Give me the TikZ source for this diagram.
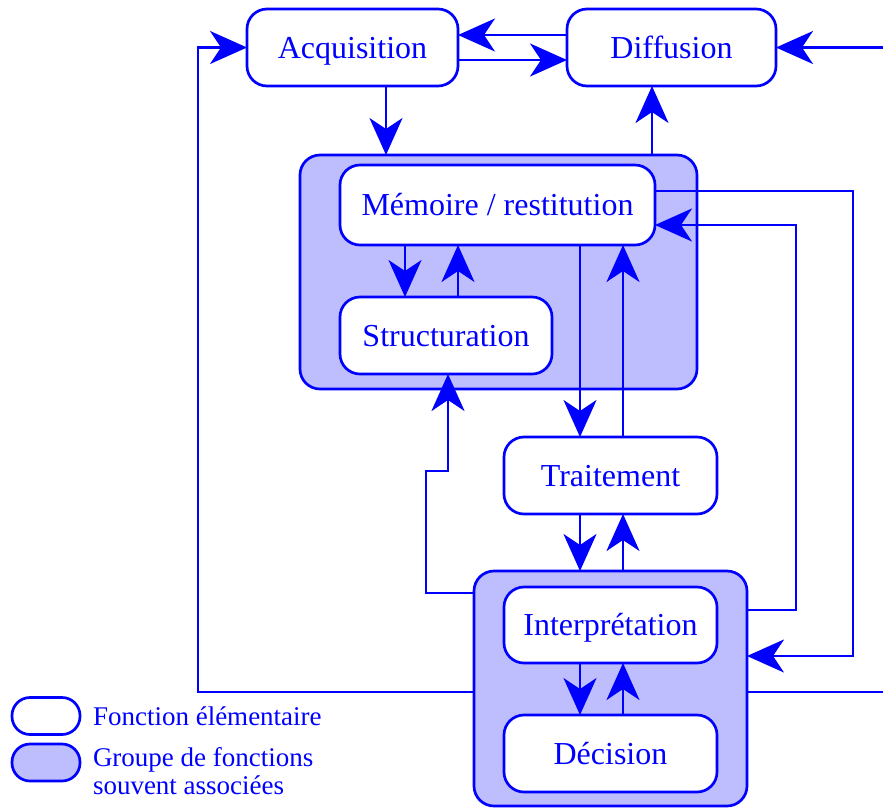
\documentclass[tikz,border=0pt]{standalone}
\usepackage{fontspec}
\setmainfont{Liberation Serif}
\usetikzlibrary{arrows.meta}
\definecolor{grp}{RGB}{190,190,255}
\begin{document}
\begin{tikzpicture}[x=1pt,y=-1pt,
  every node/.style={text=blue, outer sep=0pt},
  fbox/.style={draw=blue, line width=2.7pt, fill=white, rounded corners=20pt, inner sep=0pt, text height=28pt, text depth=7pt, font=\fontsize{32}{38}\selectfont},
  gbox/.style={draw=blue, line width=2.7pt, fill=grp, rounded corners=20pt, inner sep=0pt},
  arr/.style={draw=blue, line width=2.7pt, -{Stealth[length=37pt,width=33pt,inset=11pt]}},
  ln/.style={draw=blue, line width=2.7pt},
  legshape/.style={draw=blue, line width=2.7pt, rounded corners=18pt, minimum width=68pt, minimum height=37pt, inner sep=0pt},
  leg/.style={font=\fontsize{27}{28}\selectfont, anchor=west, align=left, inner sep=0pt}]
\useasboundingbox (0,0) rectangle (883,807);

% groups
\node[gbox, minimum width=397pt, minimum height=234pt] (memg) at (498.5,272) {};
\node[gbox, minimum width=273pt, minimum height=235pt] (intg) at (610.5,688.5) {};

% elementary functions
\node[fbox, minimum width=211pt, minimum height=77pt] (acq) at (352.5,47.5) {Acquisition};
\node[fbox, minimum width=209pt, minimum height=77pt] (dif) at (671.5,47.5) {Diffusion};
\node[fbox, minimum width=315pt, minimum height=80pt] (mem) at (497.5,205) {Mémoire / restitution};
\node[fbox, minimum width=212pt, minimum height=77pt] (str) at (446,335.5) {Structuration};
\node[fbox, minimum width=213pt, minimum height=77pt] (tra) at (610.5,475.5) {Traitement};
\node[fbox, minimum width=213pt, minimum height=76pt] (int) at (610.5,625) {Interprétation};
\node[fbox, minimum width=213pt, minimum height=77pt] (dec) at (610.5,753.5) {Décision};

\coordinate (rin) at (883,47.5);
\coordinate (rout) at (883,692);

% top connectors
\draw[arr] ([yshift=12.5pt]dif.west) -- ([yshift=12.5pt]acq.east);
\draw[arr] ([yshift=-12.5pt]acq.east) -- ([yshift=-12.5pt]dif.west);
\draw[arr] (rin) -- (dif.east);
\draw[arr] ([yshift=-3.5pt]intg.west) -| ([xshift=-49pt]acq.west) -- (acq.west);
\draw[arr] ([xshift=33.5pt]acq.south) -- ++(0,69);
\draw[arr] ([xshift=153.5pt]memg.north) -- ([xshift=-19.5pt]dif.south);

% memory group
\draw[arr] ([xshift=-92.5pt]mem.south) -- ([xshift=-41pt]str.north);
\draw[arr] ([xshift=12pt]str.north) -- ([xshift=-39.5pt]mem.south);
\draw[arr] ([xshift=82.5pt]mem.south) -- ([xshift=-30.5pt]tra.north);
\draw[arr] ([xshift=12.5pt]tra.north) -- ([xshift=125.5pt]mem.south);

% traitement / interpretation
\draw[arr] ([xshift=-30.5pt]tra.south) -- ([xshift=-30.5pt]intg.north);
\draw[arr] ([xshift=12.5pt]intg.north) -- ([xshift=12.5pt]tra.south);
\draw[arr] ([xshift=-30.5pt]int.south) -- ([xshift=-30.5pt]dec.north);
\draw[arr] ([xshift=12.5pt]dec.north) -- ([xshift=12.5pt]int.south);

% loops
\draw[arr] ([yshift=95.5pt]intg.west) -- ++(-48,0) -- ++(0,-122) -- ++(22,0) -- ([xshift=2pt]str.south);
\draw[arr] ([yshift=14pt]mem.east) -| ([xshift=106pt,yshift=32.5pt]intg.east) -- ([yshift=32.5pt]intg.east);
\draw[arr] ([yshift=78.5pt]intg.east) -| ([xshift=141pt,yshift=-20pt]mem.east) -- ([yshift=-20pt]mem.east);
\draw[ln] ([yshift=-3.5pt]intg.east) -- (rout);

% legend
\node[legshape, fill=white] (lf) at (46,716) {};
\node[legshape, fill=grp] (lg) at (46,762.5) {};
\node[leg] (lft) at (93,716) {Fonction élémentaire};
\node[leg] (lgt) at (93,771) {Groupe de fonctions\\souvent associées};
\end{tikzpicture}
\end{document}
